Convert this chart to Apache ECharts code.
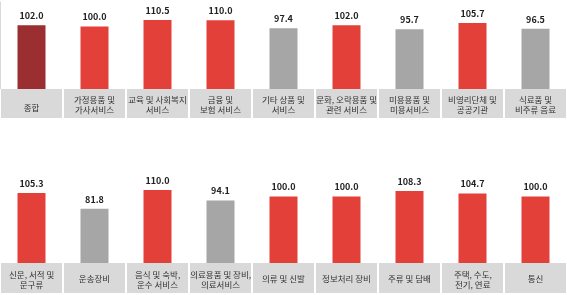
<!DOCTYPE html>
<html><head><meta charset="utf-8">
<script src="https://cdn.jsdelivr.net/npm/echarts@6/dist/echarts.min.js"></script>
<style>html,body{margin:0;padding:0;background:#fff}#c{width:567px;height:295px}</style>
</head><body><div id="c"></div>
<script>
const topCategories = ['종합','가정용품 및\n가사서비스','교육 및 사회복지\n서비스','금융 및\n보험 서비스','기타 상품 및\n서비스','문화, 오락용품 및\n관련 서비스','미용용품 및\n미용서비스','비영리단체 및\n공공기관','식료품 및\n비주류 음료'];
const topValues = [102.0,100.0,110.5,110.0,97.4,102.0,95.7,105.7,96.5];
const bottomCategories = ['신문, 서적 및\n문구류','운송장비','음식 및 숙박,\n운수 서비스','의료용품 및 장비,\n의료서비스','의류 및 신발','정보처리 장비','주류 및 담배','주택, 수도,\n전기, 연료','통신'];
const bottomValues = [105.3,81.8,110.0,94.1,100.0,100.0,108.3,104.7,100.0];

const RED='#e3403a', DARK='#9a2e30', GRAY='#a6a6a6', BOX='#d9d9d9';
function color(v,i,isTop){ if(isTop&&i===0) return DARK; return v>=100?RED:GRAY; }
const font='"Noto Sans CJK KR","Noto Sans",sans-serif';
const CAT_FS=8.5;
// width estimate of a line in em units (Hangul ~0.92em, space/comma ~0.23em)
function textW(t){
  let w=0;
  for(const ch of t){ w += (ch===' '||ch===',') ? 0.23 : (ch.charCodeAt(0)>0x3000 ? 0.92 : 0.55); }
  return w*CAT_FS;
}

function xAxis(gi,cats,sep){
  return {type:'category',gridIndex:gi,data:cats,
    axisTick:{show:false},axisLine:{show:false},axisLabel:{show:false},
    splitLine:{show:sep,interval:(i)=>i===1,lineStyle:{color:'#d9d9d9',width:1}}};
}
function yAxis(gi,max){return {type:'value',gridIndex:gi,min:0,max:max,show:false,splitLine:{show:false}};}
function series(gi,vals,isTop){
  return {type:'bar',xAxisIndex:gi,yAxisIndex:gi,barWidth:28,
    data:vals.map((v,i)=>({value:v,itemStyle:{color:color(v,i,isTop)}})),
    label:{show:true,position:'top',distance:5,formatter:p=>p.value.toFixed(1),
      fontSize:9,fontWeight:'bold',color:'#222',fontFamily:font}};
}
const lblStyle={show:true,position:'inside',align:'left',verticalAlign:'middle',
  fontSize:CAT_FS,color:'#333',fontFamily:font};
function boxSeries(gi,cats,lineIdx,off){
  return {type:'bar',xAxisIndex:gi,yAxisIndex:gi,barWidth:61,barGap:'-100%',silent:true,
    data:cats.map(c=>{
      const lines=c.split('\n');
      const txt = lines.length===1 ? (lineIdx===0?lines[0]:'') : lines[lineIdx];
      const dy = lines.length===1 ? off.single : (lineIdx===0?off.l1:off.l2);
      return {value:1,label:Object.assign({},lblStyle,{formatter:txt,offset:[-textW(txt)/2,dy]})};
    }),
    itemStyle:{color: lineIdx===0?BOX:'rgba(0,0,0,0)'}};
}
const topOff={single:4,l1:-4,l2:6};
const botOff={single:1,l1:-3,l2:7};
const chart=echarts.init(document.getElementById('c'));
chart.setOption({
  animation:false,
  grid:[
    {left:0,right:0,top:1.5,height:87.5},
    {left:0,right:0,top:89,height:29},
    {left:0,right:0,top:170,height:93},
    {left:0,right:0,top:263,height:30}
  ],
  xAxis:[xAxis(0,topCategories,true),xAxis(1,topCategories,false),xAxis(2,bottomCategories,false),xAxis(3,bottomCategories,false)],
  yAxis:[yAxis(0,140),yAxis(1,1),yAxis(2,140),yAxis(3,1)],
  series:[
    series(0,topValues,true),
    boxSeries(1,topCategories,0,topOff),boxSeries(1,topCategories,1,topOff),
    series(2,bottomValues,false),
    boxSeries(3,bottomCategories,0,botOff),boxSeries(3,bottomCategories,1,botOff)
  ]
});
</script></body></html>
